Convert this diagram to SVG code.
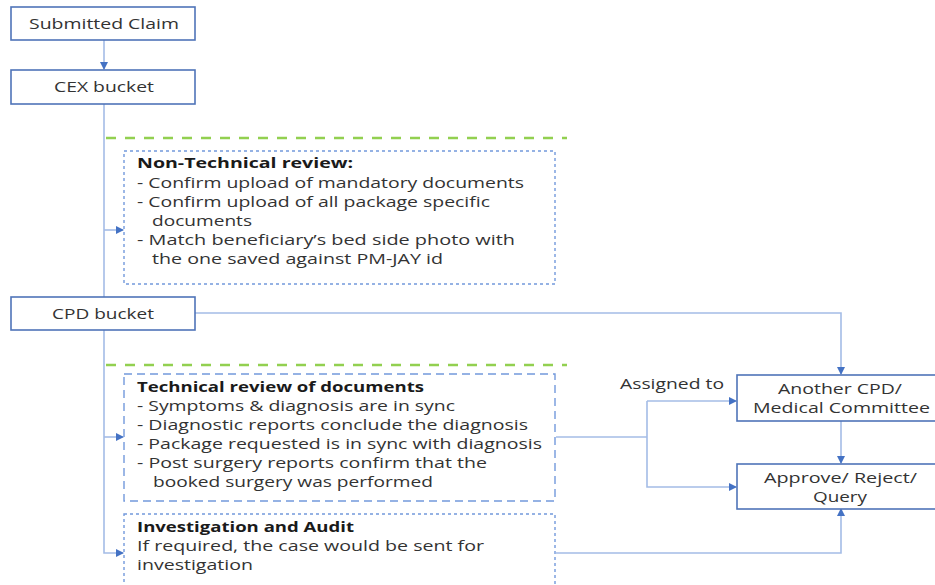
<svg xmlns="http://www.w3.org/2000/svg" width="935" height="585" viewBox="0 0 935 585">
<style>
.box{fill:#fff;stroke:#4f74b8;stroke-width:1.6}
.dbox{fill:none;stroke:#7399dc;stroke-width:1.4}
.dots{stroke-dasharray:3 3}
.dash{stroke-dasharray:8 5}
.green{stroke:#92d050;stroke-width:2.5;stroke-dasharray:10 9;fill:none}
.con{fill:none;stroke:#a4bce6;stroke-width:1.6}
.lbl{font-family:"Open Sans","Noto Sans","DejaVu Sans",sans-serif;font-size:15px;fill:#333}
.b{font-weight:bold;fill:#1a1a1a}
</style>
<defs>
<marker id="ah" markerWidth="8" markerHeight="8" refX="7" refY="4" orient="auto" markerUnits="userSpaceOnUse">
<path d="M0,0 L8,4 L0,8 Z" fill="#4472c4"/>
</marker>
</defs>
<rect width="935" height="585" fill="#fff"/>
<g id="connectors">
<line class="con" x1="104" y1="40" x2="104" y2="69" marker-end="url(#ah)"/>
<line class="con" x1="104" y1="104" x2="104" y2="297"/>
<line class="con" x1="104" y1="230" x2="123" y2="230" marker-end="url(#ah)"/>
<polyline class="con" points="195,313 841,313 841,374" marker-end="url(#ah)"/>
<polyline class="con" points="104,330 104,553 123,553" marker-end="url(#ah)"/>
<line class="con" x1="104" y1="437" x2="123" y2="437" marker-end="url(#ah)"/>
<line class="con" x1="556" y1="437" x2="647" y2="437"/>
<polyline class="con" points="647,401 647,487 736,487" marker-end="url(#ah)"/>
<line class="con" x1="647" y1="401" x2="736" y2="401" marker-end="url(#ah)"/>
<line class="con" x1="841" y1="421" x2="841" y2="463" marker-end="url(#ah)"/>
<polyline class="con" points="556,553 841,553 841,509" marker-end="url(#ah)"/>
<text class="lbl" x="620" y="389" textLength="104" lengthAdjust="spacingAndGlyphs">Assigned to</text>
</g>
<line class="green" x1="106" y1="138" x2="567" y2="138"/>
<line class="green" x1="106" y1="365" x2="567" y2="365"/>
<g id="submitted">
<rect class="box" x="11" y="7" width="184" height="33"/>
<text class="lbl" x="29" y="29" textLength="150" lengthAdjust="spacingAndGlyphs">Submitted Claim</text>
</g>
<g id="cex">
<rect class="box" x="11" y="70" width="184" height="34"/>
<text class="lbl" x="54" y="92" textLength="100" lengthAdjust="spacingAndGlyphs">CEX bucket</text>
</g>
<g id="nontech">
<rect class="dbox dots" x="124" y="151" width="431" height="133"/>
<text class="lbl b" x="137" y="168" textLength="216" lengthAdjust="spacingAndGlyphs">Non-Technical review:</text>
<text class="lbl" x="137" y="188" textLength="387" lengthAdjust="spacingAndGlyphs">- Confirm upload of mandatory documents</text>
<text class="lbl" x="137" y="207" textLength="353" lengthAdjust="spacingAndGlyphs">- Confirm upload of all package specific</text>
<text class="lbl" x="152" y="226" textLength="100" lengthAdjust="spacingAndGlyphs">documents</text>
<text class="lbl" x="137" y="245" textLength="378" lengthAdjust="spacingAndGlyphs">- Match beneficiary’s bed side photo with</text>
<text class="lbl" x="152" y="264" textLength="291" lengthAdjust="spacingAndGlyphs">the one saved against PM-JAY id</text>
</g>
<g id="cpd">
<rect class="box" x="11" y="297" width="184" height="33"/>
<text class="lbl" x="52" y="319" textLength="102" lengthAdjust="spacingAndGlyphs">CPD bucket</text>
</g>
<g id="tech">
<rect class="dbox dash" x="124" y="374" width="431" height="127"/>
<text class="lbl b" x="137" y="392" textLength="287" lengthAdjust="spacingAndGlyphs">Technical review of documents</text>
<text class="lbl" x="137" y="411" textLength="318" lengthAdjust="spacingAndGlyphs">- Symptoms &amp; diagnosis are in sync</text>
<text class="lbl" x="137" y="430" textLength="391" lengthAdjust="spacingAndGlyphs">- Diagnostic reports conclude the diagnosis</text>
<text class="lbl" x="137" y="449" textLength="405" lengthAdjust="spacingAndGlyphs">- Package requested is in sync with diagnosis</text>
<text class="lbl" x="137" y="468" textLength="350" lengthAdjust="spacingAndGlyphs">- Post surgery reports confirm that the</text>
<text class="lbl" x="153" y="487" textLength="280" lengthAdjust="spacingAndGlyphs">booked surgery was performed</text>
</g>
<g id="invest">
<rect class="dbox dots" x="124" y="514" width="431" height="80"/>
<text class="lbl b" x="137" y="532" textLength="217" lengthAdjust="spacingAndGlyphs">Investigation and Audit</text>
<text class="lbl" x="137" y="551" textLength="347" lengthAdjust="spacingAndGlyphs">If required, the case would be sent for</text>
<text class="lbl" x="137" y="570" textLength="116" lengthAdjust="spacingAndGlyphs">investigation</text>
</g>
<g id="another">
<rect class="box" x="737" y="375" width="205" height="46"/>
<text class="lbl" x="778" y="394" textLength="124" lengthAdjust="spacingAndGlyphs">Another CPD/</text>
<text class="lbl" x="753" y="413" textLength="177" lengthAdjust="spacingAndGlyphs">Medical Committee</text>
</g>
<g id="approve">
<rect class="box" x="737" y="464" width="205" height="45"/>
<text class="lbl" x="764" y="483" textLength="153" lengthAdjust="spacingAndGlyphs">Approve/ Reject/</text>
<text class="lbl" x="813" y="502" textLength="54" lengthAdjust="spacingAndGlyphs">Query</text>
</g>
</svg>
